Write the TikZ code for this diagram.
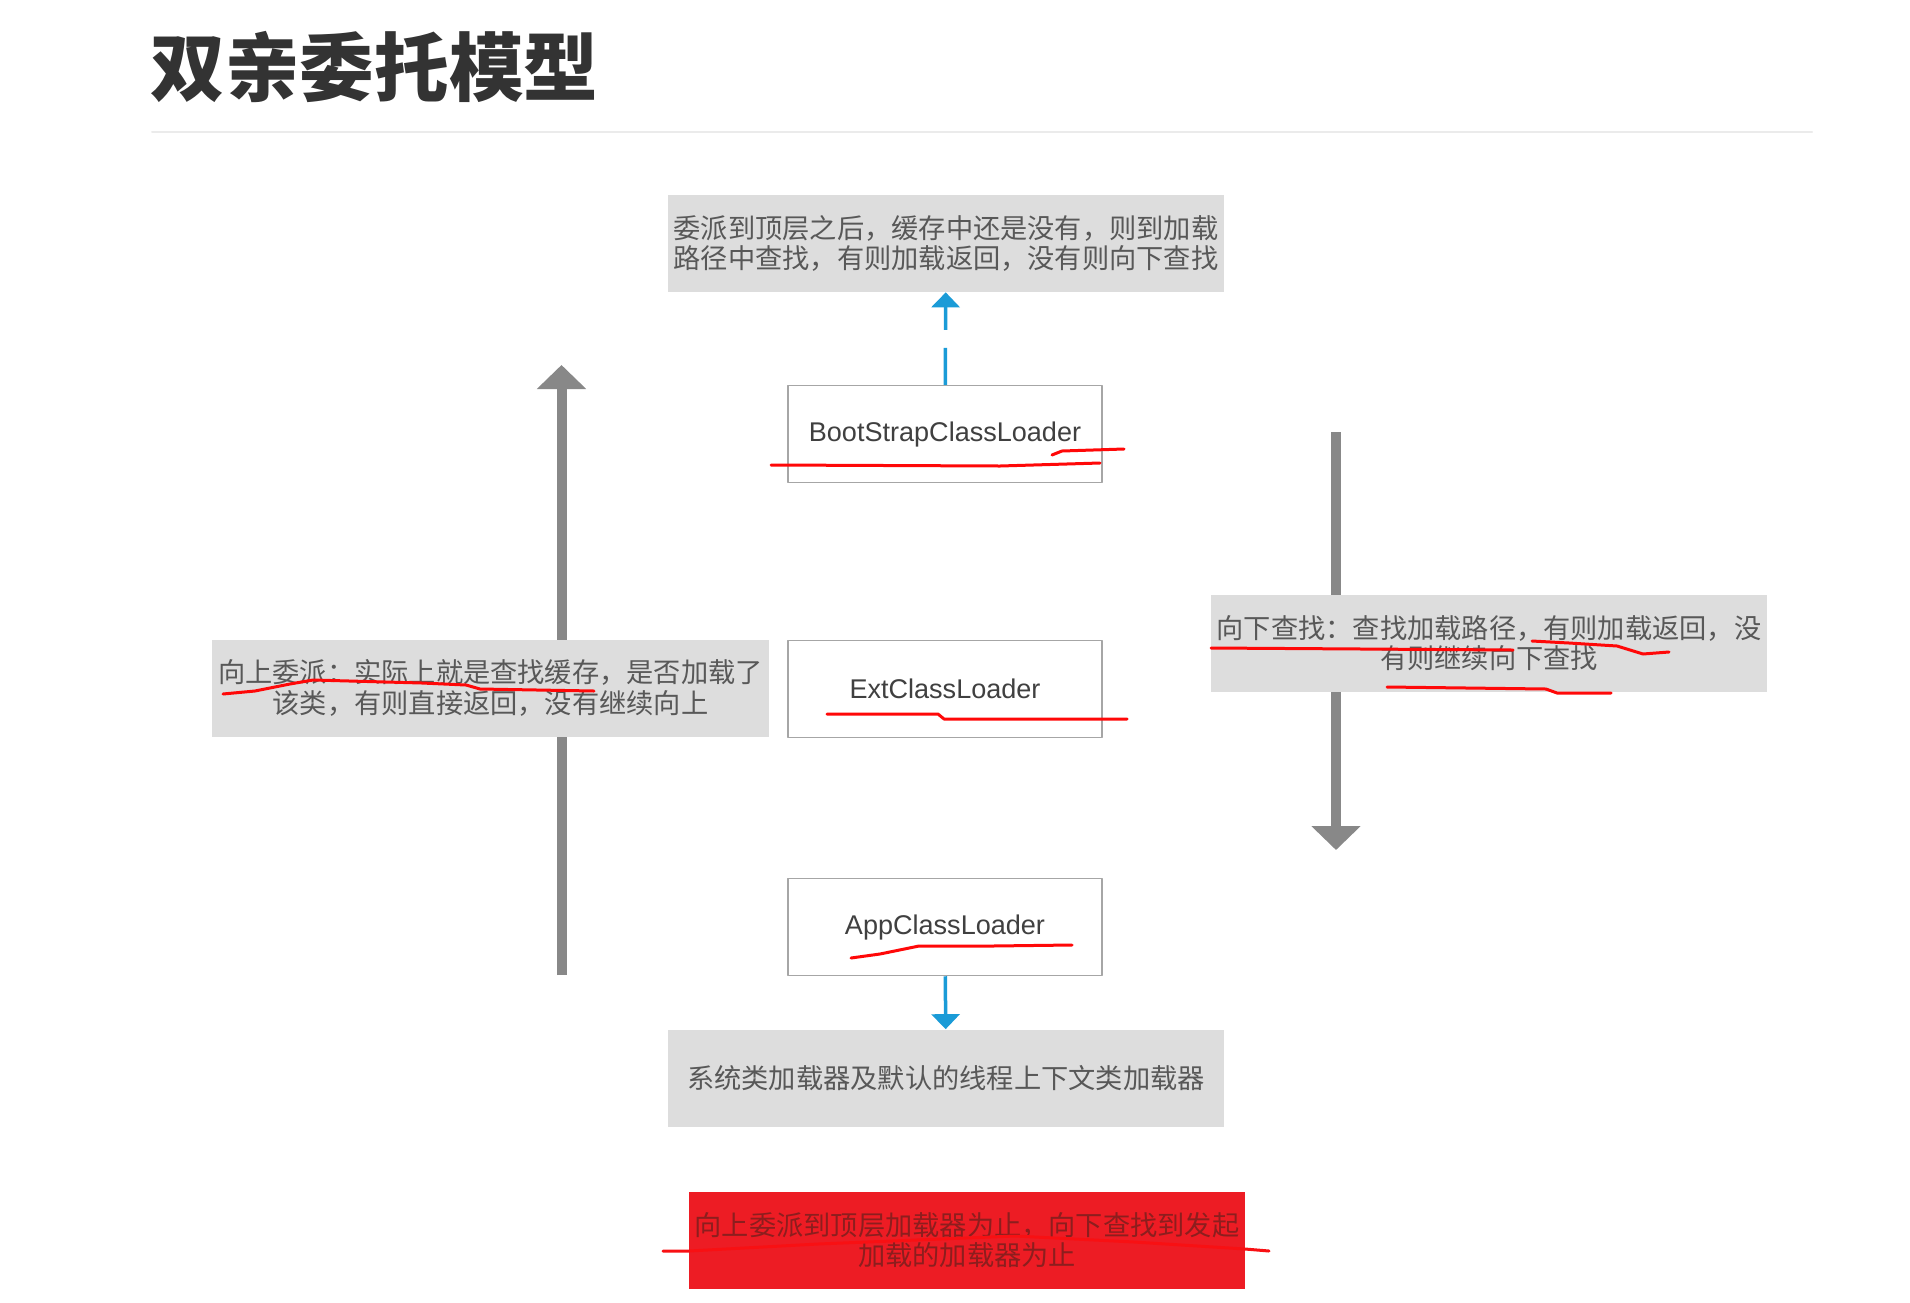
\documentclass[tikz,border=0pt]{standalone}
\usepackage{fontspec}
\setmainfont{Liberation Sans}
\newfontfamily\cjk{Noto Sans CJK SC}
\usetikzlibrary{arrows.meta}
\definecolor{notegray}{RGB}{221,221,221}
\definecolor{arrowgray}{RGB}{136,136,136}
\definecolor{linkblue}{RGB}{26,155,215}
\definecolor{rulered}{RGB}{237,28,36}
\definecolor{penred}{RGB}{255,8,8}
\definecolor{textgray}{RGB}{88,88,88}
\definecolor{redtext}{RGB}{140,30,30}

\begin{document}
\begin{tikzpicture}[x=0.02cm, y=-0.02cm, line cap=round, line join=round,
  note/.style={fill=notegray, minimum width=11.14cm, minimum height=1.94cm, inner sep=0pt,
    align=center, text=textgray, font=\cjk\fontsize{15.5}{17.4}\selectfont},
  loader/.style={draw=black!35, line width=.85pt, fill=white, minimum width=6.28cm,
    minimum height=1.94cm, text=black!75, font=\fontsize{15.4}{17.4}\selectfont},
  flow/.style={draw=arrowgray, line width=0.2cm, line cap=butt, -{Triangle[width=0.96cm,length=0.48cm]}},
  link/.style={draw=linkblue, line width=0.07cm, line cap=butt, -{Triangle[width=0.56cm,length=0.3cm]}},
  pen/.style={draw=penred, line width=0.06cm}]
  \useasboundingbox (0,0) rectangle (1910,1302);

  \coordinate (upfoot)  at (561.5,975);
  \coordinate (uptip)   at (561.5,365);
  \coordinate (downtop) at (1336,432);
  \coordinate (downtip) at (1336,850);
  \coordinate (ruleL)   at (152,131.5);
  \coordinate (ruleR)   at (1812,131.5);

  % heading
  \node[anchor=west, inner sep=0pt, text=black!80, font=\cjk\bfseries\fontsize{42.5}{48}\selectfont] (title) at (150,67) {双亲委托模型};
  \draw[black!8, line width=0.04cm] (ruleL)--(ruleR);

  \draw[flow] (upfoot)--(uptip);
  \draw[flow] (downtop)--(downtip);

  \node[note] (topnote) at (946,243.5) {委派到顶层之后，缓存中还是没有，则到加载\\路径中查找，有则加载返回，没有则向下查找};
  \node[loader] (boot) at (945,434) {BootStrapClassLoader};
  \node[loader] (ext) at (945,689) {ExtClassLoader};
  \node[loader] (app) at (945,927) {AppClassLoader};
  \node[note] (sysnote) at (946,1078) {系统类加载器及默认的线程上下文类加载器};
  \node[note] (upnote) at (490.5,688) {向上委派：实际上就是查找缓存，是否加载了\\该类，有则直接返回，没有继续向上};
  \node[note] (downnote) at (1489,643) {向下查找：查找加载路径，有则加载返回，没\\有则继续向下查找};
  \node[note, fill=rulered, text=redtext] (stopnote) at (967,1240) {向上委派到顶层加载器为止，向下查找到发起\\加载的加载器为止};

  \draw[link, dash pattern=on 0.74cm off 0.36cm on 2cm] (boot)--(topnote);
  \draw[link] (app)--(sysnote);

  % red pen marks
  \draw[pen] (771,465)--(1000,466)--(1100,463);
  \draw[pen] (1052,455)--(1062,451)--(1124,449);
  \draw[pen] (827,714)--(938,714)--(944,719)--(1127,719);
  \draw[pen] (851,958)--(880,954)--(919,946)--(993,946)--(1072,945);
  \draw[pen] (223,694)--(255,691)--(290,684)--(313,680)--(422,683)--(466,685)--(480,689)--(594,691);
  \draw[pen] (1211,648)--(1513,650);
  \draw[pen] (1532,641)--(1569,643)--(1617,646)--(1643,654)--(1669,652);
  \draw[pen] (1387,687)--(1546,689)--(1557,693)--(1611,693);
  \draw[pen, draw=penred!60!rulered] (663,1251)--(689,1251)--(818,1244)--(1015,1236)--(1134,1242)--(1245,1249)--(1269,1251);
\end{tikzpicture}
\end{document}
